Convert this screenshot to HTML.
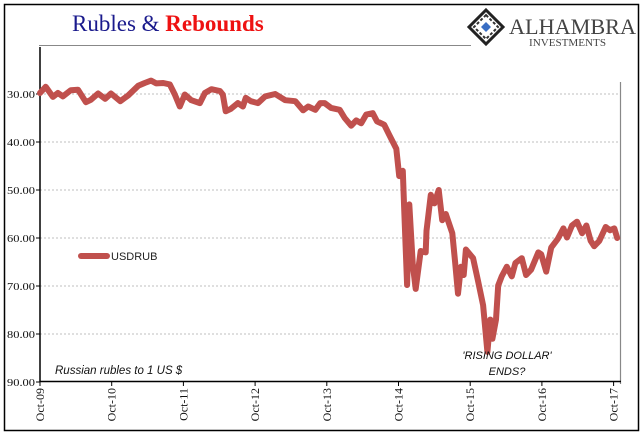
<!DOCTYPE html>
<html><head><meta charset="utf-8">
<style>
html,body{margin:0;padding:0;background:#fff;}
svg{display:block;}
</style></head>
<body>
<svg width="641" height="441" viewBox="0 0 641 441" xmlns="http://www.w3.org/2000/svg">
<rect x="4.5" y="4.5" width="634" height="426" fill="#fff" stroke="#000" stroke-width="1.5"/>
<text x="72" y="31" font-family="Liberation Serif, serif" font-size="23"><tspan fill="#1a1a8c">Rubles &amp; </tspan><tspan fill="#ee1111" font-weight="bold">Rebounds</tspan></text>
<line x1="39" y1="45.5" x2="471" y2="45.5" stroke="#888" stroke-width="1"/>
<g>
<polygon points="486,10 503,27 486,44 469,27" fill="#fff" stroke="#222" stroke-width="3"/>
<polygon points="486,15 498,27 486,39 474,27" fill="none" stroke="#333" stroke-width="2" stroke-dasharray="3,2"/>
<polygon points="486,22 491,27 486,32 481,27" fill="#3a6fc4"/>
<text x="509" y="34" font-family="Liberation Serif, serif" font-size="22" fill="#444" textLength="127" lengthAdjust="spacingAndGlyphs">ALHAMBRA</text>
<text x="529" y="46" font-family="Liberation Serif, serif" font-size="10" fill="#444" textLength="77" lengthAdjust="spacingAndGlyphs">INVESTMENTS</text>
</g>
<g id="grid"></g>
<g id="yticks"></g>
<g id="xticks"></g>
<line x1="620.5" y1="82" x2="620.5" y2="384" stroke="#888" stroke-width="1.2"/>
<line x1="40" y1="47" x2="40" y2="382" stroke="#000" stroke-width="1.5"/>
<line x1="40" y1="381.5" x2="621" y2="381.5" stroke="#000" stroke-width="1.5"/>
<path id="series" fill="none" stroke="#c0504d" stroke-width="6" stroke-linejoin="round" stroke-linecap="round"/>
<g>
<line x1="81" y1="256" x2="107" y2="256" stroke="#c0504d" stroke-width="6" stroke-linecap="round"/>
<text x="111" y="260" font-family="Liberation Sans, sans-serif" font-size="11" fill="#222">USDRUB</text>
</g>
<text x="55" y="374" font-family="Liberation Sans, sans-serif" font-size="11.5" font-style="italic" fill="#111">Russian rubles to 1 US $</text>
<text x="507" y="359" text-anchor="middle" font-family="Liberation Sans, sans-serif" font-size="11" font-style="italic" fill="#111">'RISING DOLLAR'</text>
<text x="507" y="375" text-anchor="middle" font-family="Liberation Sans, sans-serif" font-size="11" font-style="italic" fill="#111">ENDS?</text>
</svg>
<script>
const yTickValues=[30,40,50,60,70,80,90];
const yTickLabels=["30.00","40.00","50.00","60.00","70.00","80.00","90.00"];
const xTickYears=[2009.75,2010.75,2011.75,2012.75,2013.75,2014.75,2015.75,2016.75,2017.75];
const xTickLabels=["Oct-09","Oct-10","Oct-11","Oct-12","Oct-13","Oct-14","Oct-15","Oct-16","Oct-17"];
const dates=[2009.75,2009.83,2009.93,2010.00,2010.07,2010.18,2010.28,2010.39,2010.46,2010.56,2010.66,2010.74,2010.87,2010.98,2011.12,2011.21,2011.30,2011.37,2011.47,2011.56,2011.63,2011.70,2011.77,2011.86,2011.98,2012.05,2012.14,2012.26,2012.30,2012.34,2012.41,2012.51,2012.58,2012.62,2012.69,2012.79,2012.89,2013.03,2013.17,2013.31,2013.42,2013.49,2013.59,2013.66,2013.72,2013.81,2013.93,2014.00,2014.09,2014.16,2014.23,2014.30,2014.39,2014.45,2014.55,2014.62,2014.72,2014.76,2014.81,2014.83,2014.87,2014.90,2014.95,2014.99,2015.06,2015.13,2015.14,2015.20,2015.25,2015.31,2015.36,2015.41,2015.50,2015.54,2015.58,2015.62,2015.66,2015.69,2015.79,2015.86,2015.93,2015.99,2016.03,2016.06,2016.11,2016.14,2016.19,2016.26,2016.33,2016.38,2016.47,2016.53,2016.60,2016.70,2016.74,2016.81,2016.88,2016.97,2017.05,2017.10,2017.17,2017.24,2017.31,2017.37,2017.43,2017.48,2017.55,2017.64,2017.70,2017.76,2017.80];
const rates=[29.8,28.5,30.6,29.8,30.5,29.2,29.1,31.7,31.2,29.9,31.0,29.9,31.5,30.3,28.3,27.7,27.2,27.8,27.7,28.0,30.1,32.6,30.1,31.3,31.9,29.8,29.0,29.4,30.1,33.6,33.1,31.9,32.6,30.8,31.5,31.9,30.5,30.0,31.3,31.5,33.4,32.6,33.3,31.9,31.9,32.9,33.3,35.0,36.6,35.5,36.1,34.3,34.0,35.7,36.4,38.5,41.4,47.1,46.0,54.0,69.8,53.0,65.6,70.6,62.7,63.0,58.5,51.0,52.8,50.0,56.3,55.0,59.0,65.0,71.6,66.0,67.7,62.4,64.2,69.0,74.0,83.7,77.0,81.0,77.0,69.9,68.0,66.0,68.0,65.2,64.2,67.7,66.6,63.0,63.4,67.0,62.0,60.2,58.0,59.9,57.4,56.6,59.0,57.4,60.6,61.7,60.6,57.7,58.4,58.0,60.0];
const NS="http://www.w3.org/2000/svg";
const xScale=d=>40+(d-2009.75)*71.7;
const yScale=v=>94+(v-30)*4.8;
const grid=document.getElementById('grid'),yt=document.getElementById('yticks'),xt=document.getElementById('xticks');
yTickValues.forEach((v,i)=>{
  const y=yScale(v);
  if(v<90){const g=document.createElementNS(NS,'line');
  
  
  g.setAttribute('x1',40);g.setAttribute('x2',620);g.setAttribute('y1',y);g.setAttribute('y2',y);
  g.setAttribute('stroke','#aaa');g.setAttribute('stroke-dasharray','2,2');g.setAttribute('stroke-width','0.8');grid.appendChild(g);}
  const tk=document.createElementNS(NS,'line');
  
  
  tk.setAttribute('x1',36);tk.setAttribute('x2',40);tk.setAttribute('y1',y);tk.setAttribute('y2',y);tk.setAttribute('stroke','#000');yt.appendChild(tk);
  const t=document.createElementNS(NS,'text');
  
  
  t.setAttribute('x',35);t.setAttribute('y',y+4);t.setAttribute('text-anchor','end');
  t.setAttribute('font-family','Liberation Serif, serif');t.setAttribute('font-size','11');t.setAttribute('fill','#111');
  t.setAttribute('textLength','28');t.setAttribute('lengthAdjust','spacingAndGlyphs');
  t.textContent=yTickLabels[i];yt.appendChild(t);
});
xTickYears.forEach((d,i)=>{
  const x=xScale(d);
  const tk=document.createElementNS(NS,'line');
  
  
  tk.setAttribute('x1',x);tk.setAttribute('x2',x);tk.setAttribute('y1',381);tk.setAttribute('y2',386);tk.setAttribute('stroke','#000');xt.appendChild(tk);
  const t=document.createElementNS(NS,'text');
  
  
  t.setAttribute('transform','translate('+(x+4)+',388) rotate(-90)');
  t.setAttribute('text-anchor','end');
  t.setAttribute('font-family','Liberation Serif, serif');t.setAttribute('font-size','12');t.setAttribute('fill','#111');
  t.textContent=xTickLabels[i];xt.appendChild(t);
});
let dstr='';
dates.forEach((d,i)=>{dstr+=(i?'L':'M')+xScale(d).toFixed(1)+','+yScale(rates[i]).toFixed(1);});
document.getElementById('series').setAttribute('d',dstr);
</script>
</body></html>
